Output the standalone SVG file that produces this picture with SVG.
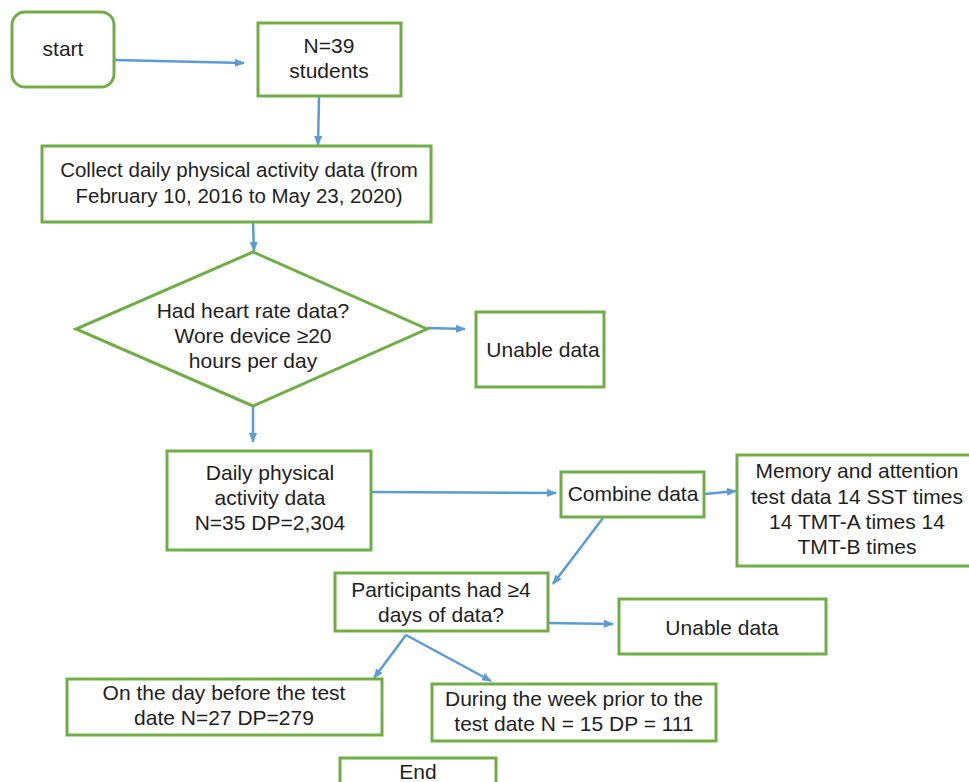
<svg xmlns="http://www.w3.org/2000/svg" width="969" height="782" viewBox="0 0 969 782">
<defs>
<marker id="ah" markerWidth="10" markerHeight="10" refX="9" refY="5" orient="auto" markerUnits="userSpaceOnUse">
<path d="M0,1 L10,5 L0,9 Z" fill="#5B9BD5"/>
</marker>
<style>
.box{fill:#fff;stroke:#70AD47;stroke-width:3}
.t{font-family:"Liberation Sans",Arial,sans-serif;font-size:21px;fill:#1e1e1e;text-anchor:middle}
.c{stroke:#5B9BD5;stroke-width:2.5;fill:none;marker-end:url(#ah)}
</style>
</defs>
<rect width="969" height="782" fill="#fff"/>
<g id="connectors">
<line class="c" x1="115" y1="60" x2="244" y2="63"/>
<line class="c" x1="319" y1="97" x2="318" y2="145"/>
<line class="c" x1="253" y1="222" x2="254" y2="251"/>
<line class="c" x1="427" y1="328" x2="465" y2="329"/>
<line class="c" x1="253" y1="407" x2="253" y2="442"/>
<line class="c" x1="371" y1="492" x2="556" y2="493"/>
<line class="c" x1="705" y1="494" x2="736" y2="491"/>
<line class="c" x1="603" y1="518" x2="553" y2="584"/>
<line class="c" x1="549" y1="623" x2="613" y2="624"/>
<line class="c" x1="406" y1="635" x2="374" y2="678"/>
<line class="c" x1="406" y1="635" x2="491" y2="681"/>
</g>
<g id="start">
<rect class="box" x="12" y="12" width="102" height="75" rx="13"/>
<text class="t" x="63" y="56">start</text>
</g>
<g id="n39">
<rect class="box" x="258" y="23" width="143" height="73"/>
<text class="t" x="329" y="53">N=39</text>
<text class="t" x="329" y="78">students</text>
</g>
<g id="collect">
<rect class="box" x="42" y="146" width="389" height="76"/>
<text class="t" x="239" y="177" style="font-size:20.5px">Collect daily physical activity data (from</text>
<text class="t" x="239" y="203" style="font-size:20.5px">February 10, 2016 to May 23, 2020)</text>
</g>
<g id="decision1">
<polygon class="box" points="253,252 427,329 253,406 76,329"/>
<text class="t" x="253" y="318">Had heart rate data?</text>
<text class="t" x="253" y="343">Wore device ≥20</text>
<text class="t" x="253" y="368">hours per day</text>
</g>
<g id="unable1">
<rect class="box" x="476" y="312" width="128" height="75"/>
<text class="t" x="543" y="357">Unable data</text>
</g>
<g id="daily">
<rect class="box" x="167" y="451" width="204" height="99"/>
<text class="t" x="270" y="480">Daily physical</text>
<text class="t" x="270" y="505">activity data</text>
<text class="t" x="270" y="530">N=35 DP=2,304</text>
</g>
<g id="combine">
<rect class="box" x="561" y="472" width="143" height="45"/>
<text class="t" x="633" y="501">Combine data</text>
</g>
<g id="memory">
<rect class="box" x="737" y="455" width="240" height="111"/>
<text class="t" x="857" y="478">Memory and attention</text>
<text class="t" x="857" y="504">test data 14 SST times</text>
<text class="t" x="857" y="529">14 TMT-A times 14</text>
<text class="t" x="857" y="554">TMT-B times</text>
</g>
<g id="participants">
<rect class="box" x="335" y="573" width="213" height="58"/>
<text class="t" x="441" y="597">Participants had ≥4</text>
<text class="t" x="441" y="622">days of data?</text>
</g>
<g id="unable2">
<rect class="box" x="619" y="599" width="207" height="55"/>
<text class="t" x="722" y="635">Unable data</text>
</g>
<g id="dayBefore">
<rect class="box" x="67" y="679" width="315" height="56"/>
<text class="t" x="224" y="700">On the day before the test</text>
<text class="t" x="224" y="725">date N=27 DP=279</text>
</g>
<g id="weekPrior">
<rect class="box" x="432" y="684" width="284" height="57"/>
<text class="t" x="574" y="706">During the week prior to the</text>
<text class="t" x="574" y="731">test date N = 15 DP = 111</text>
</g>
<g id="end">
<rect class="box" x="340" y="758" width="156" height="40"/>
<text class="t" x="418" y="779">End</text>
</g>
</svg>
